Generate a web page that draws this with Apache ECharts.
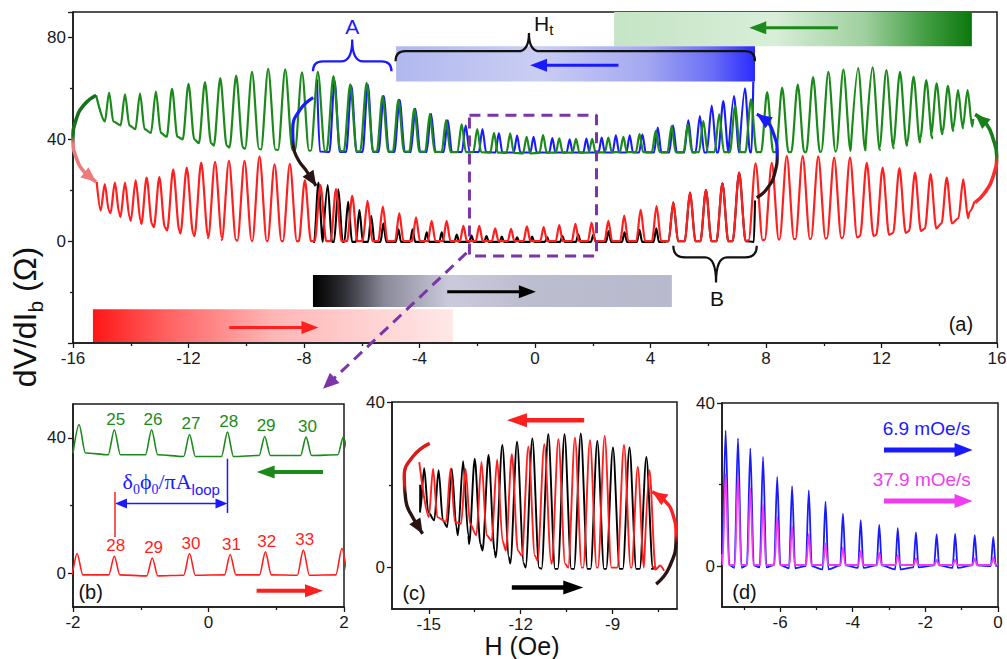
<!DOCTYPE html>
<html><head><meta charset="utf-8">
<script src="https://cdn.jsdelivr.net/npm/echarts@6/dist/echarts.min.js"></script>
<style>html,body{margin:0;padding:0;background:#fff}#c{width:1007px;height:659px}</style>
</head><body><div id="c"></div>
<script>
// ================= DATA =================
// ---- Panel (a): peaks (x in Oe, peak height, local baseline) ----
const aGreenPeakX=[-14.75,-14.2,-13.68,-13.13,-12.57,-12.0,-11.43,-10.9,-10.35,-9.8,-9.24,-8.65,-8.07,-7.52,-6.98,-6.4,-5.83,-5.28,-4.73,-4.18,-3.64,-3.08,-2.54,-2.0,-1.42,-0.86,-0.29,0.28,0.84,1.42,1.98,2.54,3.06,3.62,4.18,4.73,5.29,5.83,6.38,6.93,7.48,8.04,8.56,9.1,9.63,10.16,10.68,11.19,11.69,12.17,12.64,13.11,13.55,13.91,14.3,14.65,14.98];
const aGreenPeakY=[58.3,57.7,58,58.7,59.8,61.8,62.5,64,65,66.5,67.7,67.5,66.3,66.5,64.8,61.6,62.2,57,55.5,52,50,47.5,46,44,42.5,42.3,41,41.7,40.4,40.2,40.2,40.7,41,42,43.3,45.2,45.9,47.2,49.8,53,55.7,58.5,60.3,61.5,64.4,66.5,67.4,68,68.3,67.2,66.5,64.6,63.3,62,61,59.3,59.3];
const aGreenBase=[47,45.5,44,42.5,41,40,38.5,37.5,36.8,36.3,36,35.8,35.6,35.5,35.4,35.3,35.2,35.2,35.2,35.2,35.1,35,35,35,34.8,34.7,34.5,34.7,34.8,34.8,34.8,34.9,35,35,35,35,35,35,35,35,35,35,35,35,35,35.2,35.4,35.6,35.8,36.5,37.5,38.8,40.5,42,43.3,44.3,45];
const aGreenLeftEnd=[[-15.2,57.3]];
const aGreenRightEnd=[[15.18,48]];

const aBluePeakX=[-6.94,-6.36,-5.79,-5.24,-4.69,-4.14,-3.6,-3.02,-2.4,-1.82,-1.25,-0.62,-0.05,0.6,1.2,1.78,2.31,2.8,3.28,3.72,4.25,4.78,5.31,5.71,6.12,6.52,6.89,7.27];
const aBluePeakY=[63,61,61.5,57,55.5,52,50,47.5,45.5,44,42.5,41.5,41,40.5,40,40.3,40.7,41.6,41.6,42,44.6,45.5,47.5,49.1,53.3,55,57,60];
const aBlueBase=[35,35,35,35,35,35,35,35,35,35,34.8,34.8,34.8,34.8,34.8,34.8,34.8,34.8,34.8,34.8,34.8,34.8,34.8,34.8,34.8,34.8,34.8,34.8];
const aBlueLeftEnd=[[-7.55,63.5],[-7.45,35.2]];
const aBlueRightEnd=[[7.5,35],[7.56,62.7]];

const aRedPeakX=[-14.9,-14.55,-14.2,-13.83,-13.45,-13.01,-12.53,-12.06,-11.56,-11.08,-10.6,-10.06,-9.54,-9.02,-8.49,-7.97,-7.43,-6.89,-6.33,-5.8,-5.27,-4.7,-4.12,-3.58,-3.06,-2.48,-1.93,-1.38,-0.83,-0.28,0.3,0.84,1.4,1.96,2.54,3.09,3.66,4.21,4.79,5.37,5.92,6.49,7.07,7.64,8.2,8.72,9.27,9.81,10.36,10.91,11.49,12.04,12.62,13.16,13.7,14.26,14.83];
const aRedPeakY=[22.4,23,23,23.9,25,25.2,28.2,28.9,30.9,31.1,31.5,31.5,33.3,30.2,30.4,24,22,20.4,17.8,15.8,13.6,11,9.3,8,8,6,6,5,4.8,5.8,5.5,6.3,6.8,7.3,8,10,12.3,13.8,15.2,19.1,20.1,22.7,26.9,30.6,30.8,33.5,33.5,33.3,32.8,32.8,30.8,28.9,28.7,26.9,26.3,25,24.3];
const aRedBase=[12,11,9.5,8,6.8,5.5,4.2,3,2,1.2,0.5,0.2,0,0,0,0,0,0,0,0,0,0,0,0,0,0,0,0,0,0,0,0,0,0,0,0,0,0,0,0,0,0,0,0.4,0.6,0.8,0.8,1,1.2,1.5,2,2.5,3.2,4,5,7,9];
const aRedLeftEnd=[[-15.18,23.3]];
const aRedRightEnd=[[15.05,11.5],[15.22,15.5]];

// black sweep: dense part (left / middle) and the part hidden under red (region B)
const aBlackPeakX=[-7.5,-7.18,-6.81,-6.47,-6.08,-5.67,-5.25,-4.73,-4.24,-3.75,-3.23,-2.71,-2.2,-1.68,-1.15,-0.62,-0.1,0.42,0.95,1.5,2.02,2.55,3.1,3.62,4.2];
const aBlackPeakY=[23,22,20.4,15.5,12.2,9.9,7,4.7,4.7,3.5,3.5,2.6,2.2,2,1.8,1.5,1.8,1.6,2,2.6,2.5,4,3.5,4.5,5];
const aBlackBase=aBlackPeakX.map(()=>-0.3);
const aBlackBPeakX=[4.79,5.37,5.92,6.49,7.07];
const aBlackBPeakY=[15.2,19.1,20.1,22.7,26.9];
const aBlackBBase=[0,0,0,0,0];
const aBlackLeftEnd=[[-7.62,-0.3]];
const aBlackJoin=[[4.45,-0.3]];
const aBlackRightEnd=[[7.58,-0.3],[7.62,16]];

// ---- Panel (a): annotations (data units) ----
const aBars=[[2.74,15.13,76.5,90],[-4.81,7.62,62.7,76.5],[-7.69,4.74,-25.9,-13.3],[-15.31,-2.84,-39.6,-26.7]];
const aBarArrows=[[10.49,83.8,7.42,83.8],[2.89,69.1,-0.17,69.1],[-3.04,-19.9,0.03,-19.9],[-10.59,-33.9,-7.5,-33.9]];
const aArcLeft=[[-15.2,57.3],[-15.62,53.5],[-15.9,47.5],[-16,40],[-15.88,32.5],[-15.58,26.8],[-15.2,23.3]];
const aArcRight=[[15.24,15.2],[15.58,19.1],[15.87,25.6],[15.99,33.5],[15.87,40],[15.64,45.9],[15.24,49.8]];
const aArcInnerLeft=[[-7.68,56.4],[-8.14,51.6],[-8.39,43.9],[-8.37,37.4],[-8.2,32],[-7.91,27.5],[-7.58,21.7]];
const aArcInnerRight=[[7.68,17.1],[8.02,20.4],[8.31,26.9],[8.39,34.8],[8.25,42.6],[8.02,47.2],[7.68,49.8]];
const aBraces=[[-7.69,-6.33,-4.97,66.7,70.6,79.2],[-4.83,-0.21,7.62,70.7,74.6,81.8],[4.79,6.27,7.68,-1.8,-6.4,-16.2]];
const aZoomBox=[[-2.27,49.4],[2.13,49.4],[2.13,-5.8],[-2.27,-5.8],[-2.27,49.4]];
const aZoomArrow=[[-2.37,-4.6,-7.34,-58]];
const aTexts=[['A',-6.33,84.3],['H{s|t}',0.3,85.3],['B',6.3,-22.7],['(a)',14.75,-32.5]];
const aTickLabels=[0,40,80];

// ---- Panel (b) ----
const bGreenPeakX=[-1.91,-1.39,-0.84,-0.28,0.28,0.83,1.44,1.99];
const bGreenPeakY=[43.9,42.4,42.4,41,41.7,40.4,40.2,40.2];
const bGreenBase=[35.5,35,35,34.5,34.5,34.8,34.8,35];
const bRedPeakX=[-1.94,-1.39,-0.83,-0.28,0.32,0.84,1.4,1.97];
const bRedPeakY=[5.8,5,4.5,5.8,5.5,6.3,6.8,7.3];
const bRedBase=[-0.5,-0.5,-0.8,-0.6,-0.5,-0.5,-0.6,-0.5];
const bGreenLabels=['25','26','27','28','29','30'];
const bRedLabels=['28','29','30','31','32','33'];
const bArrows=[[1.69,29.9,0.71,29.9],[0.71,-5.2,1.69,-5.2]];
const bSpan=[[-1.38,20.6,0.28,20.6]];
const bMarks=[[0.28,33.8,0.28,17.8],[-1.38,24,-1.38,10.7]];
const bTexts=[['{g|δ}{gs|0}{g|ϕ}{gs|0}{g|/πA}{ls|loop}',-0.55,26.5],['(b)',-1.74,-5.5]];

// ---- Panel (c) ----
const cBlackPeakX=[-15.15,-14.68,-14.25,-13.88,-13.5,-13.05,-12.6,-12.12,-11.62,-11.1,-10.57,-10.04,-9.5,-8.99,-8.45,-7.9];
const cBlackPeakY=[24,23.5,23.9,25.7,26.3,27.2,29.6,30.4,31.2,32.2,32.2,32.4,30.6,29,29,26.7];
const cBlackBase=[13.4,11.4,9.8,7.8,5.7,4.1,2.5,1,0,-0.3,-0.3,-0.3,-0.3,-0.3,-0.3,-0.3];
const cRedPeakX=[-14.86,-14.29,-13.8,-13.28,-12.77,-12.29,-11.75,-11.23,-10.77,-10.23,-9.74,-9.26,-8.63,-8.18,-7.8];
const cRedPeakY=[23.9,23.9,23.9,25.5,26.1,27.4,29.2,29.8,31,31.4,30.8,31.8,29.6,24.3,23.5];
const cRedBase=[12.2,11,10.6,7.8,6.5,4.1,2.9,1.7,0.9,0,0,0,0,0,0];
const cArcLeft=[[-14.97,30],[-15.53,26.7],[-15.8,21.9],[-15.75,16.2],[-15.53,12.2],[-15.2,8.2]];
const cArcRight=[[-7.58,-4],[-7.15,0.1],[-6.93,7.3],[-7.04,13],[-7.37,16.7],[-7.71,18.3]];
const cArrows=[[-9.93,35.6,-12.45,35.6],[-12.29,-4.8,-9.96,-4.8]];
const cTexts=[['(c)',-15.48,-6.2]];

// ---- Panel (d) ----
const dPeakX=[-7.5,-7.16,-6.82,-6.47,-6.08,-5.67,-5.21,-4.75,-4.27,-3.78,-3.27,-2.76,-2.26,-1.69,-1.18,-0.64,-0.13];
const dBlueY=[33.2,31.3,28.9,26.8,21.9,19.6,18.6,15.8,12.9,11.3,10.1,9.3,8.3,7.8,7.9,7.6,7.2];
const dBlueBase=[0.3,-0.4,0.2,-0.3,0.3,-0.5,0,-0.8,0.2,-0.4,0.2,-0.8,-0.3,0.2,-0.4,0.2,0];
const dMagentaY=[22.6,22.1,19.1,15.2,12.1,9.8,7.9,5.6,4.6,3.8,3.3,2.7,1.9,1.6,1.6,1.9,2.1];
const dMagentaBase=dPeakX.map(()=>0.3);
const dArrows=[[-3.14,28.5,-0.7,28.5],[-3.14,16,-0.7,16]];
const dTexts=[['6.9 mOe/s',-1.97,33.8],['37.9 mOe/s',-2.1,21.3],['(d)',-6.98,-6.3]];

// ---- tick values ----
const cTickX=[-15,-12,-9], cMinorX=[-13.5,-10.5,-7.5];
const dTickX=[-6,-4,-2,0], dMinorX=[-7,-5,-3,-1];
const smallTickY=[0,40], smallMinorY=[20];

// ================= RENDERING =================
const SANS="'Liberation Sans', Arial, Helvetica, sans-serif";
const SERIF="'Liberation Serif', 'Times New Roman', serif";
const C={green:'#1b8a1b',red:'#ff1f1f',blue:'#1a1aff',black:'#000',magenta:'#f03cf0',purple:'#7a35a8',dark:'#2a1414',salmon:'#ec7b7b',axis:'#1a1a1a'};
const G=echarts.graphic.LinearGradient;

function trace(px,py,pb,left,right,k0,k1,cap){
  const pts=left.slice();
  px.forEach((x,i)=>{const w=Math.min(cap,k0+k1*Math.abs(py[i]-pb[i]));pts.push([x-w,pb[i]],[x,py[i]],[x+w,pb[i]]);});
  return pts.concat(right);
}
function lineS(i,data,color,width,z,extra){
  return Object.assign({type:'line',xAxisIndex:i,yAxisIndex:i,data,symbol:'none',showSymbol:false,silent:true,z,
    lineStyle:{color,width},emphasis:{disabled:true},animation:false},extra||{});
}
const SM={smooth:0.3,smoothMonotone:'x'};
function traceS(i,data,color,width,z){return lineS(i,data,color,width,z,SM);}
function arrowS(i,items,colors,o){
  return {type:'custom',xAxisIndex:i,yAxisIndex:i,clip:false,silent:true,z:o.z||8,data:items,
    renderItem(params,api){
      const it=items[params.dataIndex],col=colors[params.dataIndex];
      const a=api.coord([it[0],it[1]]),b=api.coord([it[2],it[3]]);
      const dx=b[0]-a[0],dy=b[1]-a[1],L=Math.hypot(dx,dy)||1,ux=dx/L,uy=dy/L;
      const head=(tip,sx,sy)=>{const bx=tip[0]-sx*o.hl,by=tip[1]-sy*o.hl;
        return {type:'polygon',shape:{points:[[tip[0],tip[1]],[bx-sy*o.hw,by+sx*o.hw],[bx+sy*o.hw,by-sx*o.hw]]},style:{fill:col}};};
      const ch=[];let s0=a,s1=b;
      if(o.hl) s1=[b[0]-ux*o.hl*0.8,b[1]-uy*o.hl*0.8];
      if(o.both) s0=[a[0]+ux*o.hl*0.8,a[1]+uy*o.hl*0.8];
      if(o.shaft!==false) ch.push({type:'line',shape:{x1:s0[0],y1:s0[1],x2:s1[0],y2:s1[1]},style:{stroke:col,lineWidth:o.w,lineDash:o.dash||null}});
      if(o.hl) ch.push(head(b,ux,uy));
      if(o.both) ch.push(head(a,-ux,-uy));
      return {type:'group',children:ch};
    }};
}
function textS(i,items,styles){
  return {type:'custom',xAxisIndex:i,yAxisIndex:i,clip:false,silent:true,z:10,data:items.map(t=>[t[1],t[2]]),
    renderItem(params,api){
      const t=items[params.dataIndex];const p=api.coord([t[1],t[2]]);
      return {type:'text',x:p[0],y:p[1],style:Object.assign({text:t[0],align:'center',verticalAlign:'middle',fontFamily:SANS,fontSize:20,fill:'#111'},styles[params.dataIndex])};
    }};
}
function arcS(i,data,top,bottom,w,z){
  return lineS(i,data,new G(0,0,0,1,[{offset:0,color:top},{offset:0.46,color:top},{offset:0.56,color:bottom},{offset:1,color:bottom}]),w,z||6,{smooth:0.5,clip:false});
}
function arcHead(arc){const n=arc.length;return [arc[n-2][0],arc[n-2][1],arc[n-1][0],arc[n-1][1]];}

// panel (a) traces
const aGreen=trace(aGreenPeakX,aGreenPeakY,aGreenBase,aGreenLeftEnd,aGreenRightEnd,0.09,0.005,0.25);
const aBlue=trace(aBluePeakX,aBluePeakY,aBlueBase,aBlueLeftEnd,aBlueRightEnd,0.08,0.005,0.18);
const aRed=trace(aRedPeakX,aRedPeakY,aRedBase,aRedLeftEnd,aRedRightEnd,0.09,0.005,0.25);
const aBlack=trace(aBlackPeakX,aBlackPeakY,aBlackBase,aBlackLeftEnd,aBlackJoin,0.07,0.004,0.15);
const aBlackB=trace(aBlackBPeakX,aBlackBPeakY,aBlackBBase,aBlackJoin,aBlackRightEnd,0.09,0.005,0.25);
// panel (b)
const bGreen=trace(bGreenPeakX,bGreenPeakY,bGreenBase,[[-2,35.5]],[[2.1,35]],0.06,0.004,0.1);
const bRed=trace(bRedPeakX,bRedPeakY,bRedBase,[[-2,0]],[[2.1,0]],0.06,0.004,0.1);
// panel (c)
const cBlack=trace(cBlackPeakX,cBlackPeakY,cBlackBase,[[-15.28,20]],[[-7.72,-0.3],[-7.6,0.2]],0.08,0.005,0.22);
const cRed=trace(cRedPeakX,cRedPeakY,cRedBase,[[-15.31,25.5]],[[-7.68,0.2],[-7.6,-0.5],[-7.45,0.5],[-7.32,-0.8]],0.08,0.005,0.22);
// panel (d)
const dBlue=trace(dPeakX,dBlueY,dBlueBase,[[-7.6,1.5]],[[0,0.5]],0.06,0.0012,0.1);
const dMagenta=trace(dPeakX,dMagentaY,dMagentaBase,[[-7.6,3]],[[0,0.5]],0.06,0.0012,0.1);

const barFills=[
  new G(0,0,1,0,[{offset:0,color:'#c5e4c5'},{offset:0.45,color:'#d8eed8'},{offset:0.7,color:'#9fd09f'},{offset:0.88,color:'#3e9b3e'},{offset:1,color:'#0b780b'}]),
  new G(0,0,1,0,[{offset:0,color:'#b1b8ee'},{offset:0.4,color:'#cacef3'},{offset:0.7,color:'#a3a8f1'},{offset:0.88,color:'#6a6ef6'},{offset:1,color:'#2a2aff'}]),
  new G(0,0,1,0,[{offset:0,color:'#000'},{offset:0.08,color:'#2a2a30'},{offset:0.2,color:'#8a8a9a'},{offset:0.38,color:'#cacadc'},{offset:0.6,color:'#bdbdd0'},{offset:1,color:'#b9b9cd'}]),
  new G(0,0,1,0,[{offset:0,color:'#ff1616'},{offset:0.2,color:'#ff6060'},{offset:0.5,color:'#ffb5b5'},{offset:0.75,color:'#ffd0d0'},{offset:1,color:'#ffe8e8'}])
];
const braceColors=[C.blue,'#111','#111'];

const lab={color:C.axis,fontSize:17,fontFamily:SANS,margin:7};
const line={show:true,onZero:false,lineStyle:{color:C.axis,width:1.5}};
const tick={show:true,inside:false,length:5,lineStyle:{color:C.axis,width:1.3}};
const minor={show:true,splitNumber:2,length:3,lineStyle:{color:C.axis,width:1.3}};
function ax(o){return Object.assign({type:'value',splitLine:{show:false},axisLine:line,axisTick:tick,axisLabel:lab},o);}
function minorAx(grid,min,max,vals,pos){return {type:'value',gridIndex:grid,min,max,position:pos,splitLine:{show:false},
  axisLine:{show:true,onZero:false,lineStyle:{color:'rgba(0,0,0,0)',width:1}},axisLabel:{show:false},
  axisTick:{show:true,inside:false,length:3,customValues:vals,lineStyle:{color:C.axis,width:1.3}}};}

const gridBase={show:true,borderColor:C.axis,borderWidth:1.5,outerBoundsMode:'none',containLabel:false};
const option={
  animation:false,backgroundColor:'#fff',
  grid:[
    Object.assign({left:73,top:12,width:924,height:331},gridBase),
    Object.assign({left:73,top:404,width:271,height:203},gridBase),
    Object.assign({left:392,top:402,width:285,height:207},gridBase),
    Object.assign({left:722,top:403,width:276,height:204},gridBase)
  ],
  xAxis:[
    ax({gridIndex:0,min:-16,max:16,interval:4,minorTick:minor,axisLabel:Object.assign({showMinLabel:true,showMaxLabel:true},lab)}),
    ax({gridIndex:1,min:-2,max:2,interval:2,minorTick:minor,axisLabel:Object.assign({showMinLabel:true,showMaxLabel:true},lab)}),
    ax({gridIndex:2,min:-16.2,max:-6.9,axisTick:Object.assign({customValues:cTickX},tick),axisLabel:Object.assign({customValues:cTickX},lab)}),
    ax({gridIndex:3,min:-7.6,max:0,axisTick:Object.assign({customValues:dTickX},tick),axisLabel:Object.assign({customValues:dTickX},lab)}),
    minorAx(2,-16.2,-6.9,cMinorX,'bottom'),
    minorAx(3,-7.6,0,dMinorX,'bottom')
  ],
  yAxis:[
    ax({gridIndex:0,min:-40,max:90,interval:40,minorTick:minor,axisLabel:Object.assign({formatter:v=>aTickLabels.indexOf(v)>=0?String(v):''},lab)}),
    ax({gridIndex:1,min:-10,max:50,axisTick:Object.assign({customValues:smallTickY},tick),axisLabel:Object.assign({customValues:smallTickY},lab)}),
    ax({gridIndex:2,min:-10,max:40,axisTick:Object.assign({customValues:smallTickY},tick),axisLabel:Object.assign({customValues:smallTickY},lab)}),
    ax({gridIndex:3,min:-10,max:40,axisTick:Object.assign({customValues:smallTickY},tick),axisLabel:Object.assign({customValues:smallTickY},lab)}),
    minorAx(1,-10,50,smallMinorY,'left'),
    minorAx(2,-10,40,smallMinorY,'left'),
    minorAx(3,-10,40,smallMinorY,'left')
  ],
  series:[
    // ---------- (a) ----------
    {type:'custom',xAxisIndex:0,yAxisIndex:0,silent:true,z:1,data:aBars,
      renderItem(params,api){const p0=api.coord([api.value(0),api.value(3)]),p1=api.coord([api.value(1),api.value(2)]);
        return {type:'rect',shape:{x:p0[0],y:p0[1],width:p1[0]-p0[0],height:p1[1]-p0[1]},style:{fill:barFills[params.dataIndex]}};}},
    traceS(0,aBlack,C.black,2.1,3),
    traceS(0,aBlackB,C.black,2.1,3),
    traceS(0,aRed,C.red,2.2,4),
    traceS(0,aBlue,C.blue,2.1,3),
    traceS(0,aGreen,C.green,2.2,4),
    arcS(0,aArcLeft,'#17701a',C.salmon,3.6),
    arcS(0,aArcRight,'#17801a','#ff2a2a',3.6),
    arcS(0,aArcInnerLeft,C.blue,C.dark,3.2),
    arcS(0,aArcInnerRight,C.blue,C.dark,3.2),
    arrowS(0,[arcHead(aArcLeft),arcHead(aArcRight),arcHead(aArcInnerLeft),arcHead(aArcInnerRight)],[C.salmon,'#17801a',C.dark,C.blue],{shaft:false,hl:15,hw:6.5,z:7}),
    {type:'custom',xAxisIndex:0,yAxisIndex:0,silent:true,clip:false,z:5,data:aBraces.map(b=>[b[0],b[3]]),
      renderItem(params,api){const b=aBraces[params.dataIndex];
        const pl=api.coord([b[0],b[3]]),pm=api.coord([b[0],b[4]]),pt=api.coord([b[1],b[5]]),pr=api.coord([b[2],b[3]]);
        const xl=pl[0],xt=pt[0],xr=pr[0],ye=pl[1],ym=pm[1],yt=pt[1];
        const r=Math.abs(ye-ym),rt=Math.min(Math.abs(yt-ym),11);
        const d='M'+xl+','+ye+' Q'+xl+','+ym+' '+(xl+r)+','+ym+' L'+(xt-rt)+','+ym+' Q'+xt+','+ym+' '+xt+','+yt+' Q'+xt+','+ym+' '+(xt+rt)+','+ym+' L'+(xr-r)+','+ym+' Q'+xr+','+ym+' '+xr+','+ye;
        return {type:'path',shape:{pathData:d},style:{stroke:braceColors[params.dataIndex],lineWidth:2.2,fill:'none'}};}},
    lineS(0,aZoomBox,C.purple,3,6,{lineStyle:{color:C.purple,width:3,type:[11,7]}}),
    arrowS(0,aZoomArrow,[C.purple],{w:3,dash:[11,7],hl:16,hw:7,z:7}),
    arrowS(0,aBarArrows,[C.green,C.blue,C.black,C.red],{w:3,hl:17,hw:6.5,z:7}),
    textS(0,aTexts,[{fill:C.blue,fontSize:21},{fill:'#111',fontSize:21,rich:{s:{fontSize:15,fontFamily:SANS,fill:'#111',padding:[11,0,0,0],verticalAlign:'top'}}},{fontSize:21},{fontSize:20}]),
    // ---------- (b) ----------
    traceS(1,bGreen,C.green,1.6,4),
    traceS(1,bRed,C.red,1.6,4),
    textS(1,bGreenLabels.map((t,k)=>[t,bGreenPeakX[k+1]+0.02,bGreenPeakY[k+1]+0.6]),bGreenLabels.map(()=>({fill:C.green,fontSize:17,verticalAlign:'bottom'}))),
    textS(1,bRedLabels.map((t,k)=>[t,bRedPeakX[k+1]+0.02,bRedPeakY[k+1]+0.6]),bRedLabels.map(()=>({fill:C.red,fontSize:17,verticalAlign:'bottom'}))),
    arrowS(1,bArrows,[C.green,C.red],{w:4,hl:18,hw:6.5}),
    arrowS(1,bSpan,[C.blue],{w:1.5,hl:12,hw:5,both:true}),
    arrowS(1,bMarks,[C.blue,C.red],{w:1.5,hl:0}),
    textS(1,bTexts,[{fill:C.blue,rich:{g:{fontFamily:SERIF,fontSize:22,fill:C.blue,verticalAlign:'top'},gs:{fontFamily:SERIF,fontSize:14,fill:C.blue,padding:[12,0,0,0],verticalAlign:'top'},ls:{fontFamily:SANS,fontSize:15,fill:C.blue,padding:[11,0,0,0],verticalAlign:'top'}}},{fontSize:20}]),
    // ---------- (c) ----------
    traceS(2,cBlack,C.black,1.9,3),
    traceS(2,cRed,C.red,1.9,4),
    arcS(2,cArcLeft,'#d81c1c',C.dark,3.4),
    arcS(2,cArcRight,'#ff2020',C.dark,3.4),
    arrowS(2,[arcHead(cArcLeft),arcHead(cArcRight)],[C.dark,'#ff2020'],{shaft:false,hl:15,hw:6.5,z:7}),
    arrowS(2,cArrows,[C.red,C.black],{w:4.5,hl:20,hw:7}),
    textS(2,cTexts,[{fontSize:20}]),
    // ---------- (d) ----------
    traceS(3,dBlue,C.blue,1.8,3),
    traceS(3,dMagenta,C.magenta,1.8,4),
    arrowS(3,dArrows,[C.blue,C.magenta],{w:5,hl:18,hw:7}),
    textS(3,dTexts,[{fill:C.blue,fontSize:19},{fill:C.magenta,fontSize:19},{fontSize:20}])
  ],
  graphic:[
    {type:'text',x:27,y:317,rotation:Math.PI/2,silent:true,
      style:{text:'{n|dV/dI}{s|b}{n| (Ω)}',align:'center',verticalAlign:'middle',
        rich:{n:{fontSize:32,fontFamily:SANS,fill:'#111',verticalAlign:'top'},s:{fontSize:21,fontFamily:SANS,fill:'#111',padding:[16,0,0,0],verticalAlign:'top'}}}},
    {type:'text',x:522,y:646,silent:true,style:{text:'H (Oe)',align:'center',verticalAlign:'middle',fontSize:25,fontFamily:SANS,fill:'#111'}}
  ]
};
const chart=echarts.init(document.getElementById('c'),null,{renderer:'svg'});
chart.setOption(option);
</script></body></html>
